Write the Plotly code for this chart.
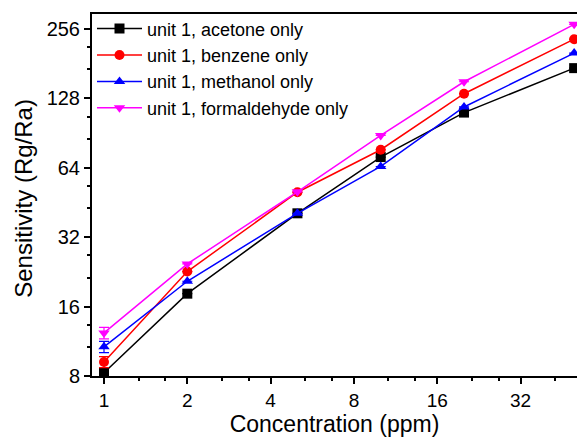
import math
import plotly.graph_objects as go

concentration = [1, 2, 5, 10, 20, 50]
acetone = [8.27, 18.2, 40.6, 71.2, 111, 173]
benzene = [9.2, 22.7, 50.1, 76.6, 134, 231]
methanol = [10.7, 20.6, 40.6, 64.8, 117.4, 201]
formaldehyde = [12.3, 24.5, 50.3, 88.4, 151, 268]
err_acetone = [0.3, 0, 0, 0, 0, 0]
err_benzene = [0.5, 0, 0, 0, 0, 0]
err_methanol = [0.6, 0, 0, 0, 0, 0]
err_formaldehyde = [0.7, 0, 0, 0, 0, 0]
names = ["unit 1, acetone only", "unit 1, benzene only",
         "unit 1, methanol only", "unit 1, formaldehyde only"]
x_ticks = [1, 2, 4, 8, 16, 32]
y_ticks = [8, 16, 32, 64, 128, 256]
x_title = "Concentration (ppm)"
y_title = "Sensitivity (Rg/Ra)"

series = [
    (acetone, err_acetone, "#000000", "square"),
    (benzene, err_benzene, "#FF0000", "circle"),
    (methanol, err_methanol, "#0000FF", "triangle-up"),
    (formaldehyde, err_formaldehyde, "#FF00FF", "triangle-down"),
]

fig = go.Figure()
for (vals, err, col, sym), nm in zip(series, names):
    fig.add_trace(go.Scatter(
        x=concentration, y=vals, name=nm, mode="lines+markers",
        line=dict(color=col, width=1.5),
        marker=dict(symbol=sym, size=10, color=col),
        error_y=dict(type="data", array=err, color=col, thickness=1.2, width=5),
        cliponaxis=False,
    ))

def minor_vals(majors):
    out = []
    for m in majors:
        out += [m * 4 / 3, m * 5 / 3]
    return out

font = "Liberation Sans, Arial, sans-serif"
fig.update_layout(
    width=577, height=439,
    margin=dict(l=92, r=0, t=14, b=63),
    paper_bgcolor="white", plot_bgcolor="white",
    font=dict(family=font, color="#000000"),
    showlegend=True,
    legend=dict(x=0.0, y=1.01, xanchor="left", yanchor="top",
                bgcolor="rgba(0,0,0,0)", font=dict(size=18, family=font),
                itemwidth=45, tracegroupgap=0),
    xaxis=dict(
        type="log", range=[math.log10(0.905), math.log10(51.2)],
        tickmode="array", tickvals=x_ticks, ticktext=[str(v) for v in x_ticks],
        ticks="outside", ticklen=6, tickwidth=2, tickcolor="black",
        showline=True, linewidth=2, linecolor="black", mirror=True,
        showgrid=False, zeroline=False, automargin=False,
        tickfont=dict(size=19, family=font),
        title=dict(text=x_title, font=dict(size=23, family=font), standoff=3),
        minor=dict(tickmode="array", tickvals=minor_vals(x_ticks), ticks="outside",
                   ticklen=3, tickwidth=1.5, tickcolor="black", showgrid=False),
    ),
    yaxis=dict(
        type="log", range=[math.log10(8), math.log10(297)],
        tickmode="array", tickvals=y_ticks, ticktext=[str(v) for v in y_ticks],
        ticks="outside", ticklen=6, tickwidth=2, tickcolor="black",
        showline=True, linewidth=2, linecolor="black", mirror=False,
        showgrid=False, zeroline=False, automargin=False,
        tickfont=dict(size=20, family=font),
        minor=dict(tickmode="array", tickvals=minor_vals(y_ticks), ticks="outside",
                   ticklen=3, tickwidth=1.5, tickcolor="black", showgrid=False),
    ),
    annotations=[dict(
        text=y_title, xref="paper", yref="paper", x=-0.142, y=0.49,
        xanchor="center", yanchor="middle", textangle=-90, showarrow=False,
        font=dict(size=24, family=font, color="#000000"),
    )],
)

fig.write_html(
    "out.html",
    config={"displayModeBar": False},
    post_script="document.body.style.margin='0';document.body.style.overflow='hidden';",
)
